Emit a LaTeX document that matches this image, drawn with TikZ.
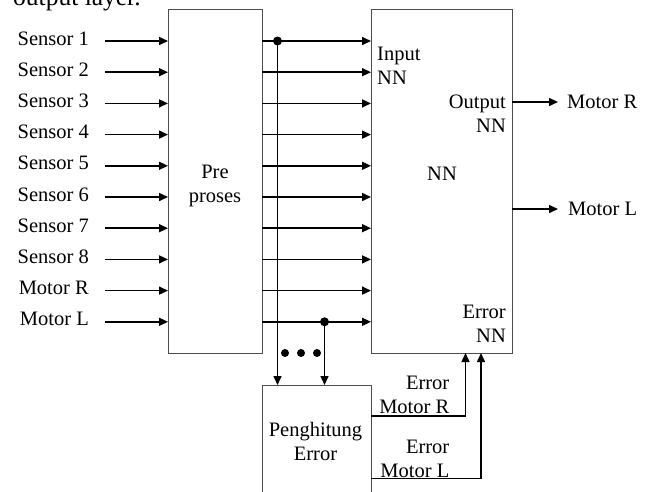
\documentclass[tikz,border=0pt]{standalone}
\usepackage{fontspec}
\setmainfont{Liberation Serif}
\usetikzlibrary{arrows.meta}
\begin{document}
\begin{tikzpicture}[x=1pt,y=-1pt,
  box/.style={draw=black!70, line width=1pt, inner sep=0pt, outer sep=0pt},
  lbl/.style={font=\fontsize{20.5}{24}\selectfont, inner sep=0pt, text height=13pt, text depth=5pt},
  lblR/.style={font=\fontsize{20.5}{24}\selectfont, inner sep=0pt, text height=13pt, text depth=0pt},
  ml/.style={font=\fontsize{20.5}{24}\selectfont, inner sep=0pt},
  arr/.style={line width=1.5pt, -{Triangle[length=9pt,width=8pt]}},
  wire/.style={line width=1.5pt}
]
\useasboundingbox (0,0) rectangle (647,491);
\clip (0,0) rectangle (647,491);

% caption tail
\node[font=\fontsize{25.5}{30}\selectfont, anchor=base west, inner sep=0pt] (cap) at (13,5) {output layer.};

% boxes
\node[box, minimum width=94pt, minimum height=344pt] (pre) at (215,181) {};
\node[box, minimum width=141pt, minimum height=344pt] (nn) at (441.5,181) {};
\node[box, minimum width=109pt, minimum height=135pt] (peng) at (316.5,452.5) {};

% box texts
\node[ml, align=center, anchor=north] (pretext) at (215,165) {Pre\\proses};
\node[ml, align=left, anchor=north west] (intext) at (377,47) {Input\\NN};
\node[ml, align=right, anchor=north east] (outtext) at (506,95) {Output\\NN};
\node[ml, anchor=north] (nntext) at (442,167) {NN};
\node[ml, align=right, anchor=north east] (errtext) at (506,305) {Error\\NN};
\node[ml, align=center, anchor=north] (pengtext) at (315.5,422) {Penghitung\\Error};

% inputs
\foreach \t [count=\i] in {Sensor 1,Sensor 2,Sensor 3,Sensor 4,Sensor 5,Sensor 6,Sensor 7,Sensor 8,Motor R,Motor L} {
  \node[lbl, anchor=east] (s\i) at (89,{41+31.2*(\i-1)}) {\t};
}
\foreach \i in {1,...,10} {
  \draw[arr] ([xshift=16pt]s\i.east) -- (pre.west |- s\i.east);
  \draw[arr] (pre.east |- s\i.east) -- (nn.west |- s\i.east);
}

% junctions to error block
\coordinate (j1) at (277.5,41);
\coordinate (j2) at (324.5,321.8);
\draw[arr] (j1) -- (j1 |- peng.north);
\draw[arr] (j2) -- (j2 |- peng.north);
\fill (j1) circle (4.5pt);
\fill (j2) circle (4.5pt);
\fill (285,353) circle (4pt);
\fill (301,353) circle (4pt);
\fill (317,353) circle (4pt);

% outputs
\node[lblR, anchor=west] (oR) at (567,102) {Motor R};
\node[lblR, anchor=west] (oL) at (568,209) {Motor L};
\draw[arr] (nn.east |- oR.west) -- ([xshift=-9pt]oR.west);
\draw[arr] (nn.east |- oL.west) -- ([xshift=-10pt]oL.west);

% error feedback
\node[ml, align=right, anchor=north east] (eRt) at (449.5,376) {Error\\Motor R};
\node[ml, align=right, anchor=north east] (eLt) at (449.5,439.5) {Error\\Motor L};
\coordinate (eR) at (465.5,416);
\coordinate (eL) at (481,478.5);
\draw[arr] (peng.east |- eR) -| (eR |- nn.south);
\draw[arr] (peng.east |- eL) -| (eL |- nn.south);
\end{tikzpicture}
\end{document}
